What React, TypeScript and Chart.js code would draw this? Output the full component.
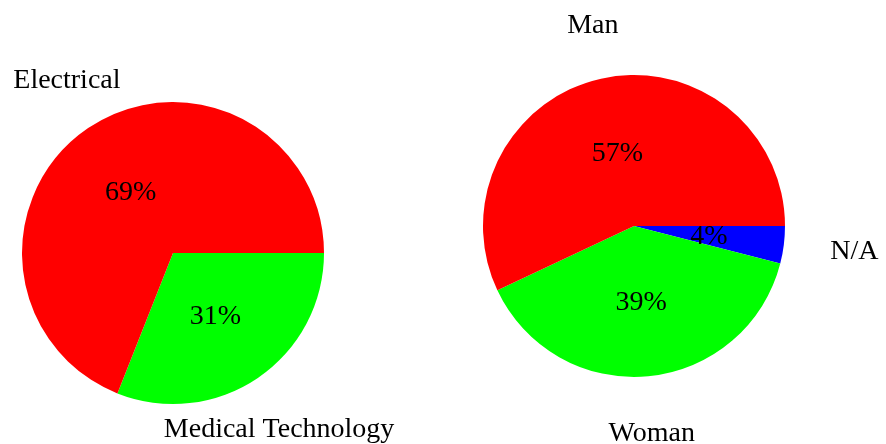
import React, { useEffect, useRef } from "react";
import { Chart, registerables } from "chart.js";

Chart.register(...registerables);

const leftLabels = ["Electrical", "Medical Technology"];
const leftValues = [69, 31];
const leftColors = ["#ff0000", "#00ff00"];

const rightLabels = ["Man", "Woman", "N/A"];
const rightValues = [57, 39, 4];
const rightColors = ["#ff0000", "#00ff00", "#0000ff"];

const FONT_PX = 28;
const FONT = `${FONT_PX}px 'Liberation Serif', 'Times New Roman', serif`;

const labelPlugin = {
  id: "pieLabels",
  afterDraw(chart: any) {
    const ctx = chart.ctx;
    const meta = chart.getDatasetMeta(0);
    const labels = chart.data.labels as string[];
    const data = chart.data.datasets[0].data as number[];
    ctx.save();
    ctx.font = FONT;
    ctx.fillStyle = "#000";
    ctx.textAlign = "center";
    ctx.textBaseline = "alphabetic";
    const pad = 9;
    meta.data.forEach((arc: any, i: number) => {
      const mid = (arc.startAngle + arc.endAngle) / 2;
      const r = arc.outerRadius;
      const ux = Math.cos(mid);
      const uy = Math.sin(mid);
      // percentage inside
      const pct = `${data[i]}%`;
      const pm = ctx.measureText(pct);
      const pa = pm.actualBoundingBoxAscent;
      const pd = pm.actualBoundingBoxDescent;
      const px = arc.x + ux * r * 0.5;
      const py = arc.y + uy * r * 0.5;
      ctx.fillText(pct, px, py + (pa - pd) / 2);
      // outer label, anchored by quadrant
      const txt = labels[i];
      const m = ctx.measureText(txt);
      const a = m.actualBoundingBoxAscent;
      const d = m.actualBoundingBoxDescent;
      const w = m.width;
      const Px = arc.x + ux * r * 1.25;
      const Py = arc.y + uy * r * 1.25;
      let deg = (-mid * 180) / Math.PI;
      deg = ((deg % 360) + 360) % 360;
      let x = Px;
      let y = Py;
      if (deg > 45 && deg <= 135) {
        // anchor south
        y = Py - pad - d;
      } else if (deg > 135 && deg <= 225) {
        // anchor east
        x = Px - pad - w / 2;
        y = Py + (a - d) / 2;
      } else if (deg > 225 && deg <= 315) {
        // anchor north
        y = Py + pad + a;
      } else {
        // anchor west
        x = Px + pad + w / 2;
        y = Py + (a - d) / 2;
      }
      ctx.fillText(txt, x, y);
    });
    ctx.restore();
  },
};

function PieCanvas(props: {
  labels: string[];
  values: number[];
  colors: string[];
  padding: { left: number; right: number; top: number; bottom: number };
  left: number;
}) {
  const ref = useRef<HTMLCanvasElement | null>(null);
  useEffect(() => {
    if (!ref.current) return;
    // Chart.js draws clockwise; the reference runs counter-clockwise from east,
    // so feed slices in reverse order starting at east.
    const labels = [...props.labels].reverse();
    const values = [...props.values].reverse();
    const colors = [...props.colors].reverse();
    const chart = new Chart(ref.current, {
      type: "pie",
      data: {
        labels,
        datasets: [
          {
            data: values,
            backgroundColor: colors,
            borderWidth: 0,
            hoverOffset: 0,
          },
        ],
      },
      options: {
        responsive: false,
        maintainAspectRatio: false,
        animation: false,
        rotation: 90,
        layout: { padding: props.padding },
        events: [],
        plugins: {
          legend: { display: false },
          tooltip: { enabled: false },
          title: { display: false },
        },
      },
      plugins: [labelPlugin],
    });
    return () => chart.destroy();
  }, []);
  return (
    <canvas
      ref={ref}
      width={443}
      height={444}
      style={{ position: "absolute", left: props.left, top: 0, width: 443, height: 444 }}
    />
  );
}

export default function App() {
  return (
    <div
      style={{
        position: "fixed",
        left: 0,
        top: 0,
        width: 886,
        height: 444,
        background: "#fff",
      }}
    >
      <PieCanvas
        labels={leftLabels}
        values={leftValues}
        colors={leftColors}
        padding={{ left: 22, right: 119, top: 102, bottom: 40 }}
        left={0}
      />
      <PieCanvas
        labels={rightLabels}
        values={rightValues}
        colors={rightColors}
        padding={{ left: 40, right: 101, top: 75, bottom: 67 }}
        left={443}
      />
    </div>
  );
}
